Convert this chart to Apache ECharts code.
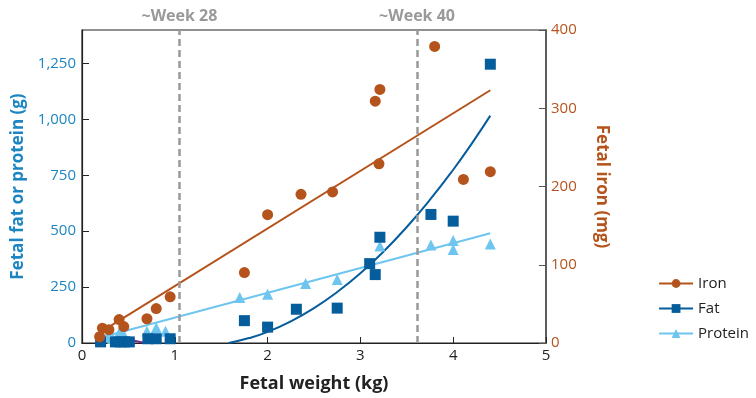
<!DOCTYPE html>
<html><head><meta charset="utf-8">
<script src="https://cdn.jsdelivr.net/npm/echarts@6/dist/echarts.min.js"></script>
<style>html,body{margin:0;padding:0;background:#fff}#c{width:756px;height:398px}</style>
</head><body><div id="c"></div>
<script>
// Iron (mg) observations: [fetal weight kg, iron mg]
const ironPoints = [[0.19,8],[0.22,19],[0.29,17],[0.40,30],[0.45,21],[0.70,31],[0.80,44],[0.95,59],[1.75,90],[2.00,164],[2.36,190],[2.70,193],[3.16,309],[3.21,324],[3.20,229],[3.80,379],[4.11,209],[4.40,219]];
const ironFit = [[0.2,14],[4.4,323]];
// Fat (g)
const fatPoints = [[0.20,5],[0.36,5],[0.41,5],[0.46,5],[0.51,5],[0.71,19],[0.80,19],[0.95,19],[1.75,100],[2.00,71],[2.31,151],[2.75,156],[3.10,355],[3.16,306],[3.21,473],[3.76,575],[4.00,545],[4.40,1247]];
const fatFit = [[1.58,0],[1.8,22],[2.0,50],[2.25,97],[2.5,156],[2.75,228],[3.0,312],[3.25,409],[3.5,519],[3.75,641],[4.0,775],[4.2,892],[4.4,1017]];
const fatEarlyFit = [[0.42,20],[0.55,11],[0.68,0]];
// Protein (g)
const proteinPoints = [[0.27,28],[0.33,20],[0.40,45],[0.45,38],[0.70,53],[0.80,68],[0.90,53],[1.70,203],[2.00,218],[2.41,266],[2.75,284],[3.21,434],[3.76,438],[4.00,458],[4.00,418],[4.40,443]];
const proteinFit = [[0.2,25],[4.4,491]];
// Reference weeks
const weekLines = [{x:1.05,label:'~Week 28'},{x:3.61,label:'~Week 40'}];

const IRON='#b5531c', FAT='#065d9c', PROT='#6ec5ef', LEFT='#1d86c2';
const FONT='"Open Sans", "Noto Sans", sans-serif';

const chart = echarts.init(document.getElementById('c'), null, {renderer:'canvas'});
chart.setOption({
  animation:false,
  textStyle:{fontFamily:FONT},
  grid:{left:82,right:210,top:30,bottom:50,show:true,borderColor:'#222',borderWidth:1.2,backgroundColor:'transparent'},
  legend:{
    right:2, top:271, orient:'vertical', itemGap:10, itemWidth:34, itemHeight:11,
    textStyle:{fontSize:15,color:'#222',fontFamily:FONT},
    data:['Iron','Fat','Protein']
  },
  xAxis:{
    type:'value', min:0, max:5, interval:1,
    name:'Fetal weight (kg)', nameLocation:'middle', nameGap:32,
    nameTextStyle:{fontSize:18,fontWeight:'bold',color:'#222',fontFamily:FONT},
    axisLine:{lineStyle:{color:'#222',width:1.2}},
    axisTick:{inside:true,length:6,lineStyle:{color:'#222'}},
    axisLabel:{fontSize:15,color:'#222',margin:5},
    splitLine:{show:false}
  },
  yAxis:[{
    type:'value', min:0, max:1400, interval:250,
    name:'Fetal fat or protein (g)', nameLocation:'middle', nameGap:55, nameRotate:90,
    nameTextStyle:{fontSize:17,fontWeight:'bold',color:LEFT,fontFamily:FONT},
    axisLine:{show:true,lineStyle:{color:'#222',width:1.2}},
    axisTick:{inside:true,length:7,lineStyle:{color:'#222'}},
    axisLabel:{fontSize:15,color:LEFT,margin:6,showMaxLabel:false,
      formatter:v=>v>1300?'':v.toLocaleString('en-US')},
    splitLine:{show:false}
  },{
    type:'value', min:0, max:400, interval:100, position:'right',
    name:'Fetal iron (mg)', nameLocation:'middle', nameGap:47, nameRotate:-90,
    nameTextStyle:{fontSize:17,fontWeight:'bold',color:IRON,fontFamily:FONT},
    axisLine:{show:true,lineStyle:{color:'#555',width:1.5}},
    axisTick:{inside:true,length:7,lineStyle:{color:'#555'}},
    axisLabel:{fontSize:15,color:IRON,margin:5},
    splitLine:{show:false}
  }],
  series:[
    {name:'Iron',type:'line',yAxisIndex:1,data:ironFit,symbol:'circle',symbolSize:10,showSymbol:false,
     lineStyle:{color:IRON,width:2},itemStyle:{color:IRON},z:3,
     markLine:{silent:true,symbol:'none',
       lineStyle:{color:'#999',type:[7,4],width:2.5},
       label:{show:true,position:'end',formatter:p=>p.name,color:'#999',fontSize:16,fontWeight:'bold',fontFamily:FONT,distance:6},
       data:weekLines.map(w=>({xAxis:w.x,name:w.label}))}},
    {name:'Fat',type:'line',yAxisIndex:0,data:fatFit,smooth:true,symbol:'rect',symbolSize:11,showSymbol:false,
     lineStyle:{color:FAT,width:2},itemStyle:{color:FAT},z:3},
    {name:'Protein',type:'line',yAxisIndex:0,data:proteinFit,symbol:'triangle',symbolSize:11,showSymbol:false,
     lineStyle:{color:PROT,width:2},itemStyle:{color:PROT},z:3},
    {name:'fatEarly',type:'line',yAxisIndex:0,data:fatEarlyFit,smooth:true,showSymbol:false,symbol:'none',
     lineStyle:{color:'#7b2a8c',width:2},z:2},
    {name:'Protein',type:'scatter',yAxisIndex:0,data:proteinPoints,symbol:'triangle',symbolSize:11,itemStyle:{color:PROT,opacity:1},z:4},
    {name:'Fat',type:'scatter',yAxisIndex:0,data:fatPoints,symbol:'rect',symbolSize:11,itemStyle:{color:FAT,opacity:1},z:5},
    {name:'Iron',type:'scatter',yAxisIndex:1,data:ironPoints,symbol:'circle',symbolSize:11,itemStyle:{color:IRON,opacity:1},z:6}
  ]
});
</script></body></html>
